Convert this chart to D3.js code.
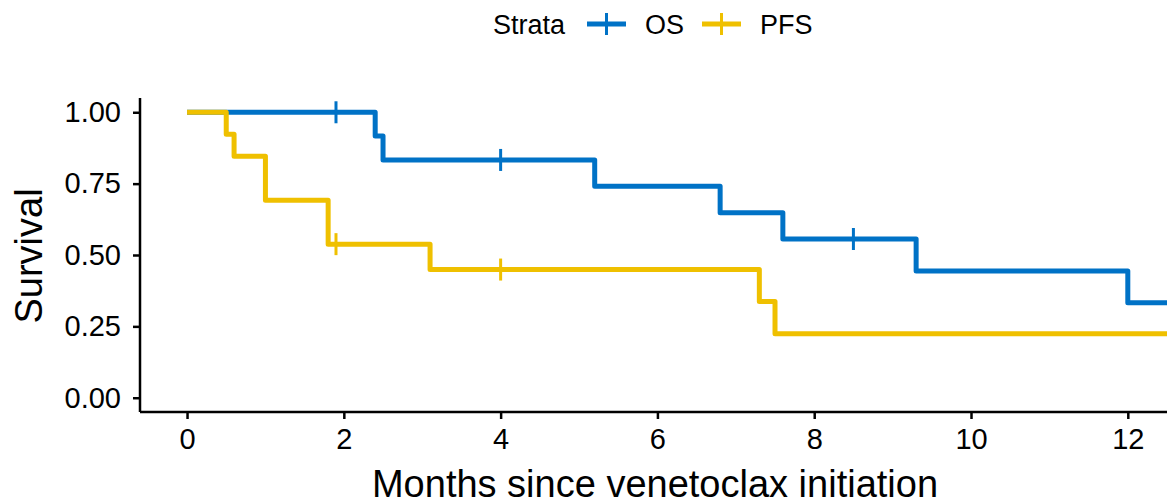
<!DOCTYPE html>
<meta charset="utf-8">
<style>
    body { margin: 0; background: #fff; }
    text { font-family: "Liberation Sans", Arial, sans-serif; fill: #000; }
    .axis path, .axis line { stroke: #000; stroke-width: 2.5; }
    .axis text { font-size: 29px; }
</style>

<svg width="1167" height="504"></svg>

<script src="https://d3js.org/d3.v7.min.js"></script>

<script>
// Kaplan-Meier steps: time of each step, survival after the step
var strata = ["OS", "PFS"];
var colors = ["#0072C6", "#EFC000"];
var osTimes = [0, 2.4, 2.5, 5.2, 6.8, 7.6, 9.3, 12, 12.6];
var osSurv = [1, 0.917, 0.833, 0.741, 0.648, 0.556, 0.444, 0.333, 0.333];
var osCensor = [1.9, 4, 8.5];
var pfsTimes = [0, 0.5, 0.6, 1, 1.8, 3.1, 7.3, 7.5, 12.6];
var pfsSurv = [1, 0.923, 0.846, 0.692, 0.538, 0.449, 0.337, 0.224, 0.224];
var pfsCensor = [1.9, 4];
var xTicks = [0, 2, 4, 6, 8, 10, 12];
var yTicks = [0, 0.25, 0.5, 0.75, 1];

var svg = d3.select("svg");
var x = d3.scaleLinear().domain([-0.6, 12.5]).range([140, 1167]);
var y = d3.scaleLinear().domain([-0.05, 1.05]).range([412, 98]);

function stepAt(times, surv, t) {
    var v = surv[0];
    for (var i = 0; i < times.length; i++) if (times[i] <= t) v = surv[i];
    return v;
}

var curves = [
    { times: osTimes, surv: osSurv, censor: osCensor },
    { times: pfsTimes, surv: pfsSurv, censor: pfsCensor }
];

var line = d3.line()
    .x(function(d) { return x(d[0]); })
    .y(function(d) { return y(d[1]); })
    .curve(d3.curveStepAfter);

var plot = svg.append("g");
plot.append("clipPath").attr("id", "clip")
    .append("rect").attr("x", 140).attr("y", 90).attr("width", 1027).attr("height", 322);

// OS first so PFS sits on top where they overlap at the start
[0, 1].forEach(function(k) {
    var c = curves[k];
    var g = plot.append("g").attr("clip-path", "url(#clip)");
    g.append("path")
        .datum(c.times.map(function(t, i) { return [t, c.surv[i]]; }))
        .attr("d", line)
        .attr("fill", "none")
        .attr("stroke", colors[k])
        .attr("stroke-width", 5)
        .attr("stroke-linejoin", "round");
    g.selectAll("line.cens")
        .data(c.censor)
        .enter().append("line")
        .attr("x1", function(d) { return x(d); })
        .attr("x2", function(d) { return x(d); })
        .attr("y1", function(d) { return y(stepAt(c.times, c.surv, d)) - 11; })
        .attr("y2", function(d) { return y(stepAt(c.times, c.surv, d)) + 11; })
        .attr("stroke", colors[k])
        .attr("stroke-width", 3);
});

// axes
var xAxis = svg.append("g").attr("class", "axis")
    .attr("transform", "translate(0,412)")
    .call(d3.axisBottom(x).tickValues(xTicks).tickSize(7).tickPadding(9).tickSizeOuter(0));
xAxis.select(".domain").attr("d", "M140,0H1167");
var yAxis = svg.append("g").attr("class", "axis")
    .attr("transform", "translate(140,0)")
    .call(d3.axisLeft(y).tickValues(yTicks).tickSize(7).tickPadding(12).tickSizeOuter(0)
        .tickFormat(d3.format(".2f")));
yAxis.select(".domain").attr("d", "M0,98V412");
svg.selectAll(".axis text").attr("font-family", null);

svg.append("text")
    .attr("x", 655).attr("y", 497)
    .attr("text-anchor", "middle")
    .attr("font-size", 38)
    .text("Months since venetoclax initiation");
svg.append("text")
    .attr("transform", "translate(42,256) rotate(-90)")
    .attr("text-anchor", "middle")
    .attr("font-size", 38)
    .text("Survival");

// legend
var legend = svg.append("g");
legend.append("text").attr("x", 493).attr("y", 34).attr("font-size", 27).text("Strata");
var lx = [587, 702];
strata.forEach(function(s, k) {
    var g = legend.append("g").attr("transform", "translate(" + lx[k] + ",24)");
    g.append("line").attr("x1", 0).attr("x2", 39).attr("y1", 0).attr("y2", 0)
        .attr("stroke", colors[k]).attr("stroke-width", 5);
    g.append("line").attr("x1", 19.5).attr("x2", 19.5).attr("y1", -11).attr("y2", 11)
        .attr("stroke", colors[k]).attr("stroke-width", 3);
    g.append("text").attr("x", 58).attr("y", 10).attr("font-size", 27).text(s);
});
</script>
